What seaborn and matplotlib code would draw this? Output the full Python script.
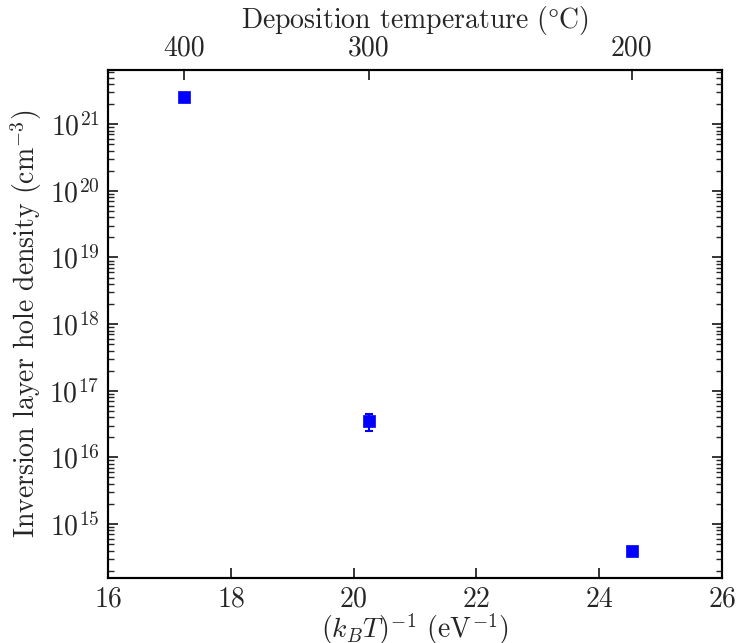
import numpy as np
import pandas as pd
import matplotlib
matplotlib.use("Agg")
import matplotlib.pyplot as plt
import seaborn as sns
from matplotlib.ticker import LogLocator, NullFormatter, FixedLocator

# data
inv_kT = [17.24, 20.25, 24.53]            # (k_B T)^-1 in eV^-1
density = [2.6e21, 3.5e16, 3.9e14]        # cm^-3
err_low = [0.0, 1.05e16, 0.0]
err_high = [0.0, 0.95e16, 0.0]
top_temps = [400, 300, 200]               # deg C
bottom_ticks = [16, 18, 20, 22, 24, 26]

kB = 8.617333e-5

sns.set_style("ticks")
plt.rcParams.update({
    "font.family": "serif",
    "font.serif": ["cmr10"],
    "mathtext.fontset": "cm",
    "axes.formatter.use_mathtext": True,
    "axes.unicode_minus": False,
    "xtick.direction": "in",
    "ytick.direction": "in",
    "axes.edgecolor": "black",
    "axes.linewidth": 1.5,
})

df = pd.DataFrame({"x": inv_kT, "y": density})

fig = plt.figure(figsize=(7.37, 6.43), dpi=100)
ax = fig.add_axes([108/737, 1-578/643, 614/737, 508/643])

ax.errorbar(inv_kT, density, yerr=[err_low, err_high], fmt="none",
            ecolor="blue", elinewidth=1.5, capsize=3, capthick=1.5, zorder=2)
sns.scatterplot(data=df, x="x", y="y", marker="s", s=85, color="blue",
                edgecolor="blue", linewidth=0.5, ax=ax, zorder=3)

ax.set_yscale("log")
ax.set_xlim(16, 26)
ax.set_ylim(1.55e14, 6.5e21)
ax.set_xticks(bottom_ticks)
ax.yaxis.set_major_locator(LogLocator(base=10, numticks=20))
ax.yaxis.set_minor_locator(LogLocator(base=10, subs=np.arange(2, 10), numticks=50))
ax.yaxis.set_minor_formatter(NullFormatter())

ax.tick_params(axis="both", which="major", labelsize=20, length=7, width=1.3,
               right=True, top=False, pad=6)
ax.tick_params(axis="y", which="minor", length=4, width=1.0, right=True)
ax.tick_params(axis="x", which="minor", bottom=False, top=False)

ax.set_xlabel(r"$(k_BT)^{-1}$ (eV$^{-1}$)", fontsize=20, labelpad=-1)
ax.set_ylabel(r"Inversion layer hole density (cm$^{-3}$)", fontsize=20, labelpad=4)

ax2 = ax.twiny()
ax2.set_xlim(ax.get_xlim())
ax2.xaxis.set_major_locator(FixedLocator([1.0/(kB*(t+273.15)) for t in top_temps]))
ax2.set_xticklabels([str(t) for t in top_temps])
ax2.tick_params(axis="x", which="major", labelsize=20, length=7, width=1.3,
                direction="in", pad=6)
ax2.tick_params(axis="x", which="minor", top=False)
ax2.set_xlabel(r"Deposition temperature ($\degree$C)", fontsize=20, labelpad=5)
for a in (ax, ax2):
    for s in a.spines.values():
        s.set_linewidth(1.5)

fig.savefig("out.png", dpi=100)
